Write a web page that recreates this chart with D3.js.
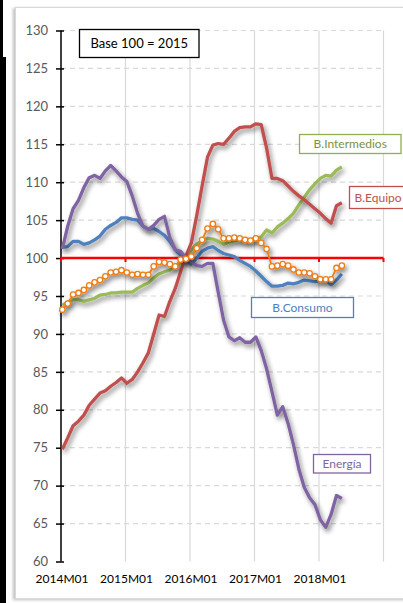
<!DOCTYPE html>
<html lang="es">
<head>
<meta charset="UTF-8">
<title>Base 100 = 2015</title>
<script src="https://d3js.org/d3.v7.min.js"></script>
<style>
  body { margin: 0; background: #fff; }
  svg { display: block; font-family: Lato, "Open Sans", sans-serif; }
</style>
</head>
<body>
<svg width="403" height="603"></svg>
<script>
// meses 2014M01 .. 2018M05
const months = [];
for (let y = 2014; y <= 2018; y++) {
  for (let m = 1; m <= 12; m++) {
    if (y === 2018 && m > 5) break;
    months.push(y + "M" + String(m).padStart(2, "0"));
  }
}
const xTickLabels = ["2014M01", "2015M01", "2016M01", "2017M01", "2018M01"];
const yTicks = [60, 65, 70, 75, 80, 85, 90, 95, 100, 105, 110, 115, 120, 125, 130];

const energia = [101.2,104.2,106.5,107.6,109.3,110.6,110.9,110.5,111.5,112.2,
  111.5,110.7,110.1,108.2,105.9,104.2,103.8,104.3,105.1,105.5,
  102.7,101.1,100.9,100.0,99.5,99.0,98.9,99.3,99.3,95.5,
  91.8,89.6,89.1,89.5,88.9,88.9,89.6,87.8,85.4,82.4,
  79.3,80.4,78.2,75.4,72.2,69.8,68.4,67.5,65.5,64.5,
  66.2,68.7,68.3];
const equipo = [74.8,76.3,77.9,78.5,79.3,80.6,81.4,82.2,82.5,83.1,
  83.6,84.2,83.5,84.0,85.0,86.2,87.5,90.0,92.5,92.3,
  94.3,96.0,98.2,100.3,102.0,105.6,109.5,113.3,114.9,115.1,
  115.0,115.8,116.7,117.2,117.3,117.3,117.7,117.6,114.5,110.5,
  110.5,110.2,109.5,108.8,108.2,107.7,107.1,106.5,105.9,105.2,
  104.6,106.9,107.3];
const intermedios = [93.8,94.2,94.5,94.5,94.3,94.5,94.7,95.1,95.2,95.4,
  95.4,95.5,95.5,95.5,96.0,96.4,96.7,97.4,97.9,98.2,
  98.4,98.9,99.4,100.0,101.1,101.8,102.3,102.6,102.5,102.2,
  101.8,102.1,102.3,102.3,102.2,102.4,102.6,102.8,103.7,103.3,
  104.1,104.6,105.2,105.9,107.0,108.0,109.0,109.8,110.5,110.9,
  110.8,111.6,112.0];
const consumo = [101.4,101.5,102.2,102.2,101.8,102.0,102.4,102.9,103.8,104.3,
  104.7,105.3,105.3,105.1,105.0,104.2,103.8,103.9,103.5,103.0,
  102.2,101.1,100.4,99.9,99.2,100.0,100.9,101.3,101.5,101.0,
  100.6,100.4,100.2,99.7,99.3,98.9,98.3,97.6,96.9,96.3,
  96.3,96.4,96.7,96.6,96.8,97.1,97.0,96.9,97.0,97.1,
  96.5,97.1,97.9];
const general = [93.2,94.0,95.2,95.4,95.8,96.4,96.8,97.1,97.6,98.1,
  98.2,98.4,98.1,97.8,97.9,97.8,97.8,98.9,99.5,99.4,
  99.2,98.9,99.8,99.9,100.2,101.3,102.4,103.9,104.5,103.8,
  102.6,102.6,102.7,102.6,102.4,102.3,102.6,102.0,101.2,98.9,
  99.0,99.2,99.0,98.5,98.1,98.1,98.0,97.6,97.2,97.2,
  97.2,98.7,99.0];

const svg = d3.select("svg");

// sombra de las lineas
const defs = svg.append("defs");
const f = defs.append("filter").attr("id", "shadow")
  .attr("x", "-20%").attr("y", "-20%").attr("width", "140%").attr("height", "140%");
f.append("feGaussianBlur").attr("in", "SourceAlpha").attr("stdDeviation", 2.4).attr("result", "b");
f.append("feOffset").attr("in", "b").attr("dx", 2).attr("dy", 2.5).attr("result", "o");
f.append("feComponentTransfer").attr("in", "o").attr("result", "s")
  .append("feFuncA").attr("type", "linear").attr("slope", 0.5);
const fm = f.append("feMerge");
fm.append("feMergeNode").attr("in", "s");
fm.append("feMergeNode").attr("in", "SourceGraphic");

const fr = defs.append("filter").attr("id", "frameShadow")
  .attr("x", "-5%").attr("y", "-5%").attr("width", "110%").attr("height", "110%");
fr.append("feDropShadow").attr("dx", -2).attr("dy", 1).attr("stdDeviation", 1.5)
  .attr("flood-color", "#000").attr("flood-opacity", 0.25);

// marco negro a la izquierda
svg.append("path")
  .attr("d", "M0,0 H3 V57 H6 V603 H0 Z")
  .attr("fill", "#000");

// area del grafico
svg.append("rect")
  .attr("x", 15.5).attr("y", 7.5).attr("width", 400).attr("height", 591)
  .attr("fill", "#fff").attr("stroke", "#d9d9d9").attr("filter", "url(#frameShadow)");

const x = d3.scaleLinear().domain([0, 60]).range([61, 383.5]);
const y = d3.scaleLinear().domain([60, 130]).range([561.5, 30.5]);
const px = i => x(i + 0.25);

// rejilla horizontal
svg.append("g").selectAll("line")
  .data(yTicks.filter(v => v > 60 && v !== 100))
  .join("line")
  .attr("x1", x(0)).attr("x2", x(60))
  .attr("y1", d => y(d)).attr("y2", d => y(d))
  .attr("stroke", "#d9d9d9").attr("stroke-width", 1.2)
  .attr("stroke-dasharray", "5 4");

// rejilla vertical
svg.append("g").selectAll("line")
  .data([12, 24, 36, 48, 60])
  .join("line")
  .attr("x1", d => x(d)).attr("x2", d => x(d))
  .attr("y1", y(130)).attr("y2", y(60))
  .attr("stroke", "#d9d9d9").attr("stroke-width", 1.2);

// eje Y
const yAxis = svg.append("g").attr("transform", `translate(${x(0)},0)`)
  .call(d3.axisLeft(y).tickValues(yTicks).tickSize(5).tickPadding(8));
yAxis.select(".domain").remove();
yAxis.selectAll(".tick line").attr("x2", 3).attr("x1", -5).attr("stroke", "#000").attr("stroke-width", 1.5);
yAxis.selectAll(".tick text").attr("fill", "#595959").attr("font-size", 13)
  .attr("font-family", "Lato, sans-serif");
svg.append("line")
  .attr("x1", x(0)).attr("x2", x(0)).attr("y1", y(130)).attr("y2", y(60))
  .attr("stroke", "#000").attr("stroke-width", 1.5);

// etiquetas X
svg.append("g").selectAll("text")
  .data(xTickLabels)
  .join("text")
  .attr("x", (d, i) => x(i * 12) + 1)
  .attr("y", 583)
  .attr("text-anchor", "middle")
  .attr("font-size", 12)
  .attr("fill", "#000")
  .text(d => d);

// linea roja en 100
svg.append("line")
  .attr("x1", x(0)).attr("x2", x(60)).attr("y1", y(100)).attr("y2", y(100))
  .attr("stroke", "#ff0000").attr("stroke-width", 2.5);
svg.append("g").selectAll("line")
  .data([0, 12, 24, 36, 48, 60])
  .join("line")
  .attr("x1", d => x(d)).attr("x2", d => x(d))
  .attr("y1", y(100)).attr("y2", y(100) + 4)
  .attr("stroke", "#ff0000").attr("stroke-width", 2);

const line = d3.line().x((d, i) => px(i)).y(d => y(d));

const series = [
  { values: intermedios, color: "#9bbb59" },
  { values: consumo, color: "#4f81bd" },
  { values: equipo, color: "#c0504d" },
  { values: energia, color: "#8064a2" }
];
series.forEach(s => {
  svg.append("path")
    .datum(s.values)
    .attr("d", line)
    .attr("fill", "none")
    .attr("stroke", s.color)
    .attr("stroke-width", 3.3)
    .attr("stroke-linejoin", "round")
    .attr("filter", "url(#shadow)");
});

// serie con marcadores
const gGen = svg.append("g").attr("filter", "url(#shadow)");
gGen.append("path")
  .datum(general)
  .attr("d", line)
  .attr("fill", "none")
  .attr("stroke", "#ed7d17")
  .attr("stroke-width", 1.8);
gGen.selectAll("circle")
  .data(general)
  .join("circle")
  .attr("cx", (d, i) => px(i))
  .attr("cy", d => y(d))
  .attr("r", 2.7)
  .attr("fill", "#fff")
  .attr("stroke", "#ed7d17")
  .attr("stroke-width", 1.3);

// cuadros de texto
const boxes = [
  { text: "Base 100 = 2015", x: 79.5, y: 29.5, w: 119.5, h: 28, stroke: "#000", color: "#000", size: 13, anchor: "middle" },
  { text: "B.Intermedios", x: 299.5, y: 134.5, w: 101.5, h: 19, stroke: "#8fb04e", color: "#77933c", size: 12, anchor: "middle" },
  { text: "B.Equipo", x: 349.5, y: 186.5, w: 70, h: 22, stroke: "#c0504d", color: "#c0504d", size: 12, anchor: "start" },
  { text: "B.Consumo", x: 251.5, y: 297.5, w: 102, h: 20, stroke: "#4f81bd", color: "#4f81bd", size: 12, anchor: "middle" },
  { text: "Energía", x: 313.5, y: 454.5, w: 57, h: 18.5, stroke: "#8064a2", color: "#8064a2", size: 12, anchor: "middle" }
];
const gb = svg.append("g").selectAll("g").data(boxes).join("g");
gb.append("rect")
  .attr("x", d => d.x).attr("y", d => d.y)
  .attr("width", d => d.w).attr("height", d => d.h)
  .attr("fill", "#fff").attr("stroke", d => d.stroke).attr("stroke-width", 1.3);
gb.append("text")
  .attr("x", d => d.anchor === "middle" ? d.x + d.w / 2 : d.x + 5)
  .attr("y", d => d.y + d.h / 2)
  .attr("dy", "0.36em")
  .attr("text-anchor", d => d.anchor)
  .attr("font-size", d => d.size)
  .attr("fill", d => d.color)
  .text(d => d.text);
</script>
</body>
</html>
